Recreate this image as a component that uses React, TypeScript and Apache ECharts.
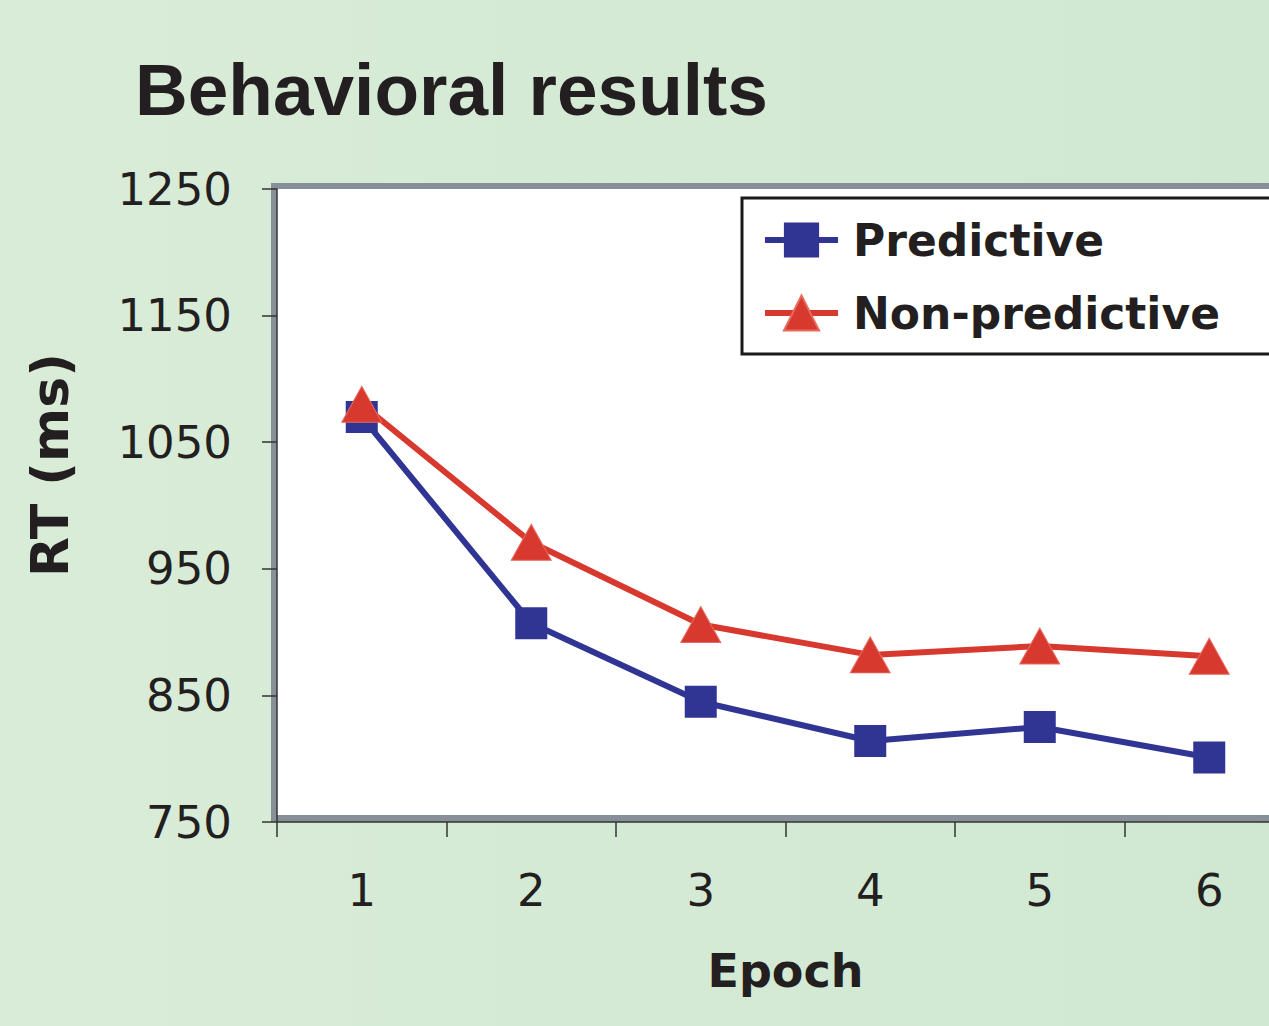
import React, { useEffect, useRef } from "react";
import * as echarts from "echarts";

const epochs = ["1", "2", "3", "4", "5", "6"];
const predictive = [1070, 907, 845, 814, 825, 801];
const nonPredictive = [1080, 971, 906, 882, 889, 881];
const yTicks = [750, 850, 950, 1050, 1150, 1250];

const TEXT = "#231f20";
const BLUE = "#303594";
const RED = "#d8392e";
const FONT = "'DejaVu Sans', Verdana, sans-serif";

export default function App() {
  const ref = useRef<HTMLDivElement>(null);
  useEffect(() => {
    if (!ref.current) return;
    const chart = echarts.init(ref.current, null, { renderer: "svg" });
    chart.setOption({
      animation: false,
      backgroundColor: "transparent",
      title: {
        text: "Behavioral results",
        left: 130,
        top: 48,
        textStyle: {
          fontFamily: "'Liberation Sans', Arial, sans-serif",
          fontWeight: "bold",
          fontSize: 73,
          color: TEXT,
        },
      },
      graphic: [
        {
          type: "rect",
          z: -2,
          shape: { x: 271, y: 183, width: 1100, height: 639 },
          style: { fill: "#878f98" },
        },
        {
          type: "rect",
          z: -1,
          shape: { x: 277, y: 189, width: 1100, height: 626 },
          style: { fill: "#ffffff" },
        },
        {
          type: "text",
          x: 50,
          y: 465,
          rotation: Math.PI / 2,
          style: {
            text: "RT (ms)",
            font: `bold 52px ${FONT}`,
            fill: TEXT,
            textAlign: "center",
            textVerticalAlign: "middle",
          },
        },
      ],
      legend: {
        orient: "vertical",
        left: 742,
        top: 198,
        backgroundColor: "#ffffff",
        borderColor: "#1a1a1a",
        borderWidth: 3,
        borderRadius: 0,
        padding: [20, 60, 19, 20],
        itemWidth: 73,
        itemHeight: 44,
        itemGap: 29,
        lineStyle: { width: 6 },
        textStyle: {
          fontFamily: FONT,
          fontWeight: "bold",
          fontSize: 44,
          color: TEXT,
          padding: [0, 0, 0, 10],
        },
        data: ["Predictive", "Non-predictive"],
      },
      grid: {
        left: 277,
        top: 189,
        width: 1017,
        height: 633,
        containLabel: false,
      },
      xAxis: {
        type: "category",
        data: epochs,
        boundaryGap: true,
        name: "Epoch",
        nameLocation: "middle",
        nameGap: 126,
        nameTextStyle: {
          fontFamily: FONT,
          fontWeight: "bold",
          fontSize: 46,
          color: TEXT,
        },
        axisLine: { show: true, lineStyle: { color: "#333333", width: 1.5 } },
        axisTick: { show: true, length: 15, lineStyle: { color: "#333333", width: 1.5 } },
        axisLabel: {
          margin: 46,
          fontFamily: FONT,
          fontSize: 45,
          color: TEXT,
        },
        splitLine: { show: false },
      },
      yAxis: {
        type: "value",
        min: 750,
        max: 1250,
        axisLine: { show: true, lineStyle: { color: "#333333", width: 1.5 } },
        axisTick: {
          show: true,
          length: 15,
          customValues: yTicks,
          lineStyle: { color: "#333333", width: 1.5 },
        },
        axisLabel: {
          margin: 45,
          fontFamily: FONT,
          fontSize: 45,
          color: TEXT,
          customValues: yTicks,
          formatter: (v: number) => String(v),
        },
        splitLine: { show: false },
      },
      series: [
        {
          name: "Predictive",
          type: "line",
          data: predictive,
          symbol: "rect",
          symbolSize: 32,
          lineStyle: { color: BLUE, width: 6 },
          itemStyle: { color: BLUE },
        },
        {
          name: "Non-predictive",
          type: "line",
          data: nonPredictive,
          symbol: "triangle",
          symbolSize: [40, 36],
          lineStyle: { color: RED, width: 6 },
          itemStyle: { color: RED, borderColor: "#e86a5e", borderWidth: 1 },
        },
      ],
    });
    return () => chart.dispose();
  }, []);
  return (
    <div
      style={{
        position: "fixed",
        left: 0,
        top: 0,
        width: 1269,
        height: 1026,
        overflow: "hidden",
        background: "linear-gradient(to right, #d9ecd8, #d0e8d2)",
      }}
    >
      <div ref={ref} style={{ width: 1310, height: 1026 }} />
    </div>
  );
}
